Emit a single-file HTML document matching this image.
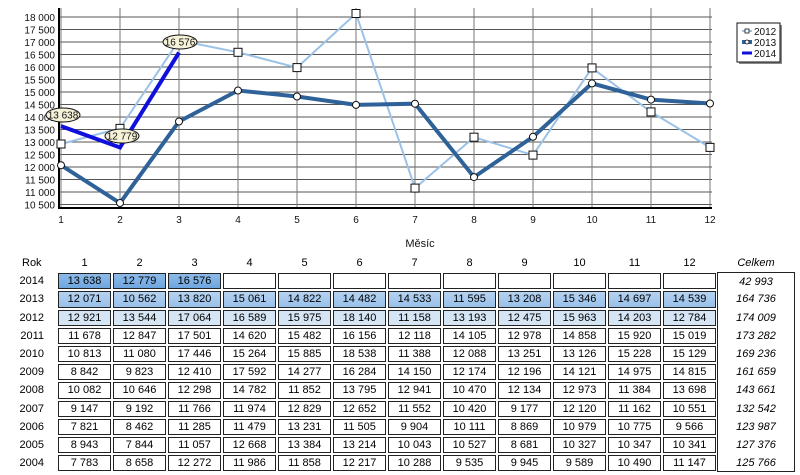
<!DOCTYPE html>
<html><head><meta charset="utf-8"><style>
body{margin:0;width:800px;height:475px;background:#fff;font-family:"Liberation Sans",sans-serif;overflow:hidden;position:relative}
svg{position:absolute;left:0;top:0}
table{position:absolute;left:0;top:254px;border-collapse:separate;border-spacing:0;font-size:11px;table-layout:fixed}
tr{height:18.2px}
td{height:18.2px;padding:0;text-align:center;line-height:16px;box-sizing:border-box}
td.y{width:57px;text-align:left}
td.y span{display:inline-block;width:44px;text-align:right}
td.c{width:55px}
td.c div{margin:1px 1px;height:14.2px;line-height:14px;border:1px solid #222;background:#fff}
tr.a td.c div{background:linear-gradient(#8dbbe9,#6fa6df)}
tr.b td.c div{background:linear-gradient(#b6d3f0,#98c0ea)}
tr.d td.c div{background:#d6e5f4}
td.t{width:78px;font-style:italic;border-left:1px solid #222;border-right:1px solid #222}
tr.h td.t{border:none}
tr.a td.t{border-top:1px solid #222}
tr.z td.t{border-bottom:1px solid #222}
</style></head><body>
<svg width="800" height="250" font-family="Liberation Sans, sans-serif" font-size="10">
<g stroke="#555" stroke-width="1">
<line x1="59" y1="17" x2="712" y2="17"/><line x1="59" y1="29.5" x2="712" y2="29.5"/><line x1="59" y1="42" x2="712" y2="42"/><line x1="59" y1="54.5" x2="712" y2="54.5"/><line x1="59" y1="67" x2="712" y2="67"/><line x1="59" y1="79.5" x2="712" y2="79.5"/><line x1="59" y1="92" x2="712" y2="92"/><line x1="59" y1="104.5" x2="712" y2="104.5"/><line x1="59" y1="117" x2="712" y2="117"/><line x1="59" y1="129.5" x2="712" y2="129.5"/><line x1="59" y1="142" x2="712" y2="142"/><line x1="59" y1="154.5" x2="712" y2="154.5"/><line x1="59" y1="167" x2="712" y2="167"/><line x1="59" y1="179.5" x2="712" y2="179.5"/><line x1="59" y1="192" x2="712" y2="192"/><line x1="59" y1="204.5" x2="712" y2="204.5"/>
</g>
<g stroke="#777" stroke-width="1">
<line x1="61" y1="8" x2="61" y2="208"/><line x1="120" y1="8" x2="120" y2="208"/><line x1="179" y1="8" x2="179" y2="208"/><line x1="238" y1="8" x2="238" y2="208"/><line x1="297" y1="8" x2="297" y2="208"/><line x1="356" y1="8" x2="356" y2="208"/><line x1="415" y1="8" x2="415" y2="208"/><line x1="474" y1="8" x2="474" y2="208"/><line x1="533" y1="8" x2="533" y2="208"/><line x1="592" y1="8" x2="592" y2="208"/><line x1="651" y1="8" x2="651" y2="208"/><line x1="710" y1="8" x2="710" y2="208"/>
</g>
<line x1="59" y1="8" x2="59" y2="208" stroke="#000" stroke-width="2"/>
<line x1="58" y1="208" x2="712" y2="208" stroke="#000" stroke-width="2"/>
<g text-anchor="end" fill="#111">
<text x="55" y="21">18 000</text><text x="55" y="33.5">17 500</text><text x="55" y="46">17 000</text><text x="55" y="58.5">16 500</text><text x="55" y="71">16 000</text><text x="55" y="83.5">15 500</text><text x="55" y="96">15 000</text><text x="55" y="108.5">14 500</text><text x="55" y="121">14 000</text><text x="55" y="133.5">13 500</text><text x="55" y="146">13 000</text><text x="55" y="158.5">12 500</text><text x="55" y="171">12 000</text><text x="55" y="183.5">11 500</text><text x="55" y="196">11 000</text><text x="55" y="208.5">10 500</text>
</g>
<g text-anchor="middle" fill="#111">
<text x="61" y="223">1</text><text x="120" y="223">2</text><text x="179" y="223">3</text><text x="238" y="223">4</text><text x="297" y="223">5</text><text x="356" y="223">6</text><text x="415" y="223">7</text><text x="474" y="223">8</text><text x="533" y="223">9</text><text x="592" y="223">10</text><text x="651" y="223">11</text><text x="710" y="223">12</text>
<text x="420" y="247" font-size="11">Měsíc</text>
</g>
<polyline fill="none" stroke="#9cc2e6" stroke-width="2" points="61,144 120,128.4 179,40.4 238,52.3 297,67.6 356,13.5 415,188.1 474,137.2 533,155.1 592,67.9 651,111.9 710,147.4"/>
<polyline fill="none" stroke="#2f6298" stroke-width="4" points="61,165.2 120,203 179,121.5 238,90.5 297,96.5 356,104.9 415,103.7 474,177.1 533,136.8 592,83.4 651,99.6 710,103.5"/>
<polyline fill="none" stroke="#1010dd" stroke-width="4" points="61,126.1 120,147.5 179,52.6"/>
<g fill="#fff" stroke="#111" stroke-width="1">
<rect x="57" y="140" width="8" height="8"/><rect x="116" y="124.4" width="8" height="8"/><rect x="175" y="36.4" width="8" height="8"/><rect x="234" y="48.3" width="8" height="8"/><rect x="293" y="63.6" width="8" height="8"/><rect x="352" y="9.5" width="8" height="8"/><rect x="411" y="184.1" width="8" height="8"/><rect x="470" y="133.2" width="8" height="8"/><rect x="529" y="151.1" width="8" height="8"/><rect x="588" y="63.9" width="8" height="8"/><rect x="647" y="107.9" width="8" height="8"/><rect x="706" y="143.4" width="8" height="8"/>
<circle cx="61" cy="165.2" r="3.5"/><circle cx="120" cy="203" r="3.5"/><circle cx="179" cy="121.5" r="3.5"/><circle cx="238" cy="90.5" r="3.5"/><circle cx="297" cy="96.5" r="3.5"/><circle cx="356" cy="104.9" r="3.5"/><circle cx="415" cy="103.7" r="3.5"/><circle cx="474" cy="177.1" r="3.5"/><circle cx="533" cy="136.8" r="3.5"/><circle cx="592" cy="83.4" r="3.5"/><circle cx="651" cy="99.6" r="3.5"/><circle cx="710" cy="103.5" r="3.5"/>
</g>
<g fill="#f5f2d8" stroke="#111" stroke-width="1">
<ellipse cx="63" cy="115" rx="17" ry="7"/><ellipse cx="122" cy="136" rx="17" ry="7"/><ellipse cx="180" cy="42" rx="17" ry="7"/>
</g>
<g text-anchor="middle" fill="#111" font-size="10">
<text x="63" y="118.5">13 638</text><text x="122" y="139.5">12 779</text><text x="180" y="45.5">16 576</text>
</g>
<rect x="739" y="25" width="43" height="39" fill="#888"/>
<rect x="737" y="23" width="43" height="39" fill="#fff" stroke="#111"/>
<line x1="742" y1="31" x2="752" y2="31" stroke="#9cc2e6" stroke-width="2"/><rect x="745" y="29" width="4" height="4" fill="#fff" stroke="#111" stroke-width="0.8"/>
<line x1="742" y1="42" x2="752" y2="42" stroke="#2f6298" stroke-width="4"/><circle cx="747" cy="42" r="2" fill="#fff" stroke="#111" stroke-width="0.8"/>
<line x1="742" y1="53" x2="752" y2="53" stroke="#1010dd" stroke-width="3"/>
<g font-size="10" fill="#111"><text x="754" y="35">2012</text><text x="754" y="46">2013</text><text x="754" y="57">2014</text></g>
</svg>
<table>
<tr class="h"><td class="y"><span style="text-align:left;padding-left:22px;width:auto">Rok</span></td><td class="c">1</td><td class="c">2</td><td class="c">3</td><td class="c">4</td><td class="c">5</td><td class="c">6</td><td class="c">7</td><td class="c">8</td><td class="c">9</td><td class="c">10</td><td class="c">11</td><td class="c">12</td><td class="t">Celkem</td></tr>
<tr class="a"><td class="y"><span>2014</span></td><td class="c"><div>13 638</div></td><td class="c"><div>12 779</div></td><td class="c"><div>16 576</div></td><td class="c"><div style="background:#fff"></div></td><td class="c"><div style="background:#fff"></div></td><td class="c"><div style="background:#fff"></div></td><td class="c"><div style="background:#fff"></div></td><td class="c"><div style="background:#fff"></div></td><td class="c"><div style="background:#fff"></div></td><td class="c"><div style="background:#fff"></div></td><td class="c"><div style="background:#fff"></div></td><td class="c"><div style="background:#fff"></div></td><td class="t">42 993</td></tr>
<tr class="b"><td class="y"><span>2013</span></td><td class="c"><div>12 071</div></td><td class="c"><div>10 562</div></td><td class="c"><div>13 820</div></td><td class="c"><div>15 061</div></td><td class="c"><div>14 822</div></td><td class="c"><div>14 482</div></td><td class="c"><div>14 533</div></td><td class="c"><div>11 595</div></td><td class="c"><div>13 208</div></td><td class="c"><div>15 346</div></td><td class="c"><div>14 697</div></td><td class="c"><div>14 539</div></td><td class="t">164 736</td></tr>
<tr class="d"><td class="y"><span>2012</span></td><td class="c"><div>12 921</div></td><td class="c"><div>13 544</div></td><td class="c"><div>17 064</div></td><td class="c"><div>16 589</div></td><td class="c"><div>15 975</div></td><td class="c"><div>18 140</div></td><td class="c"><div>11 158</div></td><td class="c"><div>13 193</div></td><td class="c"><div>12 475</div></td><td class="c"><div>15 963</div></td><td class="c"><div>14 203</div></td><td class="c"><div>12 784</div></td><td class="t">174 009</td></tr>
<tr><td class="y"><span>2011</span></td><td class="c"><div>11 678</div></td><td class="c"><div>12 847</div></td><td class="c"><div>17 501</div></td><td class="c"><div>14 620</div></td><td class="c"><div>15 482</div></td><td class="c"><div>16 156</div></td><td class="c"><div>12 118</div></td><td class="c"><div>14 105</div></td><td class="c"><div>12 978</div></td><td class="c"><div>14 858</div></td><td class="c"><div>15 920</div></td><td class="c"><div>15 019</div></td><td class="t">173 282</td></tr>
<tr><td class="y"><span>2010</span></td><td class="c"><div>10 813</div></td><td class="c"><div>11 080</div></td><td class="c"><div>17 446</div></td><td class="c"><div>15 264</div></td><td class="c"><div>15 885</div></td><td class="c"><div>18 538</div></td><td class="c"><div>11 388</div></td><td class="c"><div>12 088</div></td><td class="c"><div>13 251</div></td><td class="c"><div>13 126</div></td><td class="c"><div>15 228</div></td><td class="c"><div>15 129</div></td><td class="t">169 236</td></tr>
<tr><td class="y"><span>2009</span></td><td class="c"><div>8 842</div></td><td class="c"><div>9 823</div></td><td class="c"><div>12 410</div></td><td class="c"><div>17 592</div></td><td class="c"><div>14 277</div></td><td class="c"><div>16 284</div></td><td class="c"><div>14 150</div></td><td class="c"><div>12 174</div></td><td class="c"><div>12 196</div></td><td class="c"><div>14 121</div></td><td class="c"><div>14 975</div></td><td class="c"><div>14 815</div></td><td class="t">161 659</td></tr>
<tr><td class="y"><span>2008</span></td><td class="c"><div>10 082</div></td><td class="c"><div>10 646</div></td><td class="c"><div>12 298</div></td><td class="c"><div>14 782</div></td><td class="c"><div>11 852</div></td><td class="c"><div>13 795</div></td><td class="c"><div>12 941</div></td><td class="c"><div>10 470</div></td><td class="c"><div>12 134</div></td><td class="c"><div>12 973</div></td><td class="c"><div>11 384</div></td><td class="c"><div>13 698</div></td><td class="t">143 661</td></tr>
<tr><td class="y"><span>2007</span></td><td class="c"><div>9 147</div></td><td class="c"><div>9 192</div></td><td class="c"><div>11 766</div></td><td class="c"><div>11 974</div></td><td class="c"><div>12 829</div></td><td class="c"><div>12 652</div></td><td class="c"><div>11 552</div></td><td class="c"><div>10 420</div></td><td class="c"><div>9 177</div></td><td class="c"><div>12 120</div></td><td class="c"><div>11 162</div></td><td class="c"><div>10 551</div></td><td class="t">132 542</td></tr>
<tr><td class="y"><span>2006</span></td><td class="c"><div>7 821</div></td><td class="c"><div>8 462</div></td><td class="c"><div>11 285</div></td><td class="c"><div>11 479</div></td><td class="c"><div>13 231</div></td><td class="c"><div>11 505</div></td><td class="c"><div>9 904</div></td><td class="c"><div>10 111</div></td><td class="c"><div>8 869</div></td><td class="c"><div>10 979</div></td><td class="c"><div>10 775</div></td><td class="c"><div>9 566</div></td><td class="t">123 987</td></tr>
<tr><td class="y"><span>2005</span></td><td class="c"><div>8 943</div></td><td class="c"><div>7 844</div></td><td class="c"><div>11 057</div></td><td class="c"><div>12 668</div></td><td class="c"><div>13 384</div></td><td class="c"><div>13 214</div></td><td class="c"><div>10 043</div></td><td class="c"><div>10 527</div></td><td class="c"><div>8 681</div></td><td class="c"><div>10 327</div></td><td class="c"><div>10 347</div></td><td class="c"><div>10 341</div></td><td class="t">127 376</td></tr>
<tr class="z"><td class="y"><span>2004</span></td><td class="c"><div>7 783</div></td><td class="c"><div>8 658</div></td><td class="c"><div>12 272</div></td><td class="c"><div>11 986</div></td><td class="c"><div>11 858</div></td><td class="c"><div>12 217</div></td><td class="c"><div>10 288</div></td><td class="c"><div>9 535</div></td><td class="c"><div>9 945</div></td><td class="c"><div>9 589</div></td><td class="c"><div>10 490</div></td><td class="c"><div>11 147</div></td><td class="t">125 766</td></tr>
</table>
</body></html>
